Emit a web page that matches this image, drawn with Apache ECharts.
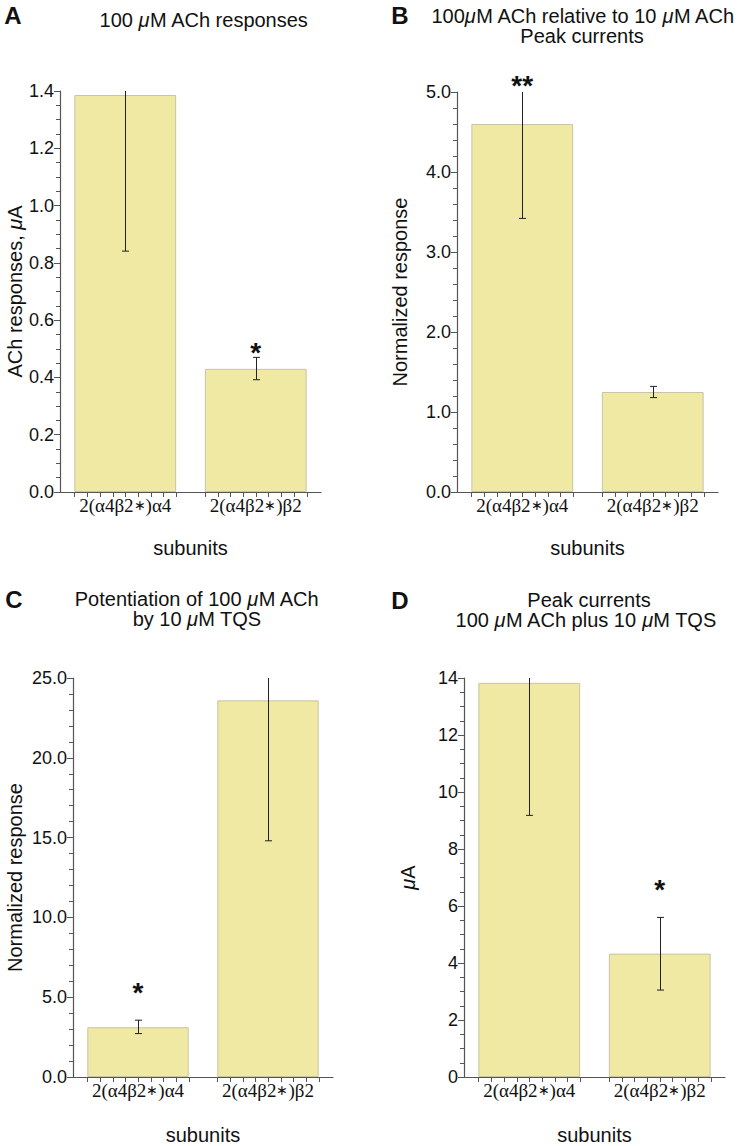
<!DOCTYPE html>
<html>
<head>
<meta charset="utf-8">
<script src="https://cdn.jsdelivr.net/npm/echarts@6/dist/echarts.min.js"></script>
<style>
html,body{margin:0;padding:0;background:#fff;}
#chart{width:742px;height:1146px;}
</style>
</head>
<body>
<div id="chart"></div>
<script>
// ---------- DATA ----------
const categories = ['2(α4β2∗)α4', '2(α4β2∗)β2'];

// Panel A: 100 µM ACh responses (µA)
const valuesA = [1.386, 0.430];
const errLowA = [0.841, 0.392];
const errHighA = [1.931, 0.470];
const sigA = ['', '*'];
const yTicksA = [0, 0.2, 0.4, 0.6, 0.8, 1.0, 1.2, 1.4];

// Panel B: 100 µM ACh relative to 10 µM ACh
const valuesB = [4.60, 1.25];
const errLowB = [3.42, 1.18];
const errHighB = [5.78, 1.32];
const sigB = ['**', ''];
const yTicksB = [0, 1, 2, 3, 4, 5];

// Panel C: Potentiation of 100 µM ACh by 10 µM TQS
const valuesC = [3.12, 23.6];
const errLowC = [2.72, 14.8];
const errHighC = [3.56, 32.4];
const sigC = ['*', ''];
const yTicksC = [0, 5, 10, 15, 20, 25];

// Panel D: Peak currents 100 µM ACh plus 10 µM TQS (µA)
const valuesD = [13.83, 4.33];
const errLowD = [9.18, 3.05];
const errHighD = [18.5, 5.60];
const sigD = ['', '*'];
const yTicksD = [0, 2, 4, 6, 8, 10, 12, 14];

// ---------- STYLE ----------
const SANS = '"Liberation Sans", Arial, Helvetica, sans-serif';
const SERIF = '"Liberation Serif", "Times New Roman", serif';
const BAR_FILL = '#f0e9a3';
const BAR_EDGE = '#c8c4a6';
const AXIS_COL = '#555';
const TXT = '#111';

const panels = [
  {grid:{left:60, top:91, width:261, height:401}, values:valuesA, lo:errLowA, hi:errHighA, sig:sigA, ticks:yTicksA, dec:1, minor:4,
   yName:'ACh responses, {i|μ}A', yGap:33, sigOffset:5, xGap:46},
  {grid:{left:457, top:92, width:261, height:400}, values:valuesB, lo:errLowB, hi:errHighB, sig:sigB, ticks:yTicksB, dec:1, minor:5,
   yName:'Normalized response', yGap:47, sigOffset:7, xGap:46},
  {grid:{left:73, top:678, width:260, height:400}, values:valuesC, lo:errLowC, hi:errHighC, sig:sigC, ticks:yTicksC, dec:1, minor:5,
   yName:'Normalized response', yGap:48, sigOffset:28, xGap:48},
  {grid:{left:464, top:678, width:261, height:401}, values:valuesD, lo:errLowD, hi:errHighD, sig:sigD, ticks:yTicksD, dec:0, minor:4,
   yName:'{i|μ}A', yGap:46, sigOffset:28, xGap:48}
];

const BAR_FRAC = 0.78;

const grids = [], xAxes = [], yAxes = [], series = [];
panels.forEach((p, k) => {
  const yMin = p.ticks[0], yMax = p.ticks[p.ticks.length - 1];
  const step = p.ticks[1] - p.ticks[0];
  grids.push(p.grid);
  xAxes.push({
    type:'category', gridIndex:k, data:categories,
    axisLine:{show:true, lineStyle:{color:AXIS_COL, width:1.2}},
    axisTick:{show:false},
    axisLabel:{fontFamily:SERIF, fontSize:19, color:TXT, margin:4, interval:0, hideOverlap:false,
      formatter:(v) => v.replace('∗', '{s|∗}'),
      rich:{s:{fontFamily:SERIF, fontSize:14, color:TXT}}},
    name:'subunits', nameLocation:'middle', nameGap:p.xGap,
    nameTextStyle:{fontFamily:SANS, fontSize:20, color:TXT}
  });
  yAxes.push({
    type:'value', gridIndex:k, min:yMin, max:yMax, interval:step,
    axisLine:{show:true, lineStyle:{color:AXIS_COL, width:1.2}},
    axisTick:{show:true, length:6, lineStyle:{color:AXIS_COL}},
    minorTick:{show:true, splitNumber:p.minor, length:4, lineStyle:{color:AXIS_COL}},
    splitLine:{show:false},
    axisLabel:{fontFamily:SANS, fontSize:18, color:TXT, margin:6,
      formatter:(v) => v.toFixed(p.dec)},
    name:p.yName, nameLocation:'middle', nameGap:p.yGap,
    nameTextStyle:{fontFamily:SANS, fontSize:20, color:TXT,
      rich:{i:{fontFamily:SANS, fontSize:20, fontStyle:'italic', color:TXT}}}
  });
  // bars
  series.push({
    type:'bar', xAxisIndex:k, yAxisIndex:k, data:p.values,
    barWidth:(BAR_FRAC*100)+'%',
    itemStyle:{color:BAR_FILL, borderColor:BAR_EDGE, borderWidth:1},
    silent:true, animation:false
  });
  // minor ticks below x axis, spanning each bar
  series.push({
    type:'custom', xAxisIndex:k, yAxisIndex:k,
    data:categories.map((c, i) => [i, yMin]),
    renderItem:(params, api) => {
      const base = api.coord([api.value(0), api.value(1)]);
      const bw = api.size([1, 0])[0] * BAR_FRAC;
      const ch = [];
      for (let j = 0; j <= 8; j++) {
        const x = Math.round(base[0] - bw/2 + bw*j/8) + 0.5;
        ch.push({type:'line', shape:{x1:x, y1:base[1], x2:x, y2:base[1]+5},
          style:{stroke:AXIS_COL, lineWidth:1}});
      }
      return {type:'group', children:ch};
    },
    silent:true, animation:false, z:3
  });
  // error bars (clipped at the top of the axis)
  series.push({
    type:'custom', xAxisIndex:k, yAxisIndex:k,
    data:p.values.map((v, i) => [i, p.lo[i], p.hi[i]]),
    renderItem:(params, api) => {
      const i = api.value(0), lo = api.value(1), hi = api.value(2);
      const hiC = Math.min(hi, yMax);
      const a = api.coord([i, lo]), b = api.coord([i, hiC]);
      const x = Math.round(a[0]) + 0.5;
      const cap = 3.5;
      const ch = [
        {type:'line', shape:{x1:x, y1:a[1], x2:x, y2:b[1]}, style:{stroke:'#222', lineWidth:1}},
        {type:'line', shape:{x1:x-cap, y1:a[1], x2:x+cap, y2:a[1]}, style:{stroke:'#222', lineWidth:1}}
      ];
      if (hi <= yMax) ch.push({type:'line', shape:{x1:x-cap, y1:b[1], x2:x+cap, y2:b[1]}, style:{stroke:'#222', lineWidth:1}});
      return {type:'group', children:ch};
    },
    silent:true, animation:false, z:4
  });
  // significance asterisks
  series.push({
    type:'custom', xAxisIndex:k, yAxisIndex:k,
    data:p.values.map((v, i) => [i, Math.min(p.hi[i], yMax), p.sig[i]]),
    renderItem:(params, api) => {
      const s = p.sig[params.dataIndex];
      if (!s) return null;
      const c = api.coord([api.value(0), api.value(1)]);
      return {type:'text', x:c[0], y:c[1] - p.sigOffset,
        style:{text:s, font:'bold 28px ' + SANS, fill:TXT, textAlign:'center', textVerticalAlign:'middle'}};
    },
    clip:false, silent:true, animation:false, z:5
  });
});

const italic = {i:{fontFamily:SANS, fontSize:20, fontStyle:'italic', fill:TXT}};
function t(x, y, text, bold) {
  return {type:'text', x:x, y:y, style:{text:text, font:(bold ? 'bold 24px ' : '20px ') + SANS, fill:TXT,
    textAlign:'center', textVerticalAlign:'middle', rich:italic}};
}
const graphics = [
  t(13, 15, 'A', true), t(204, 20, '100 {i|μ}M ACh responses'),
  t(400, 15, 'B', true), t(583, 16, '100{i|μ}M ACh relative to 10 {i|μ}M ACh'), t(582, 36, 'Peak currents'),
  t(14, 599, 'C', true), t(197, 599, 'Potentiation of 100 {i|μ}M ACh'), t(197, 619, 'by 10 {i|μ}M TQS'),
  t(400, 600, 'D', true), t(589, 600, 'Peak currents'), t(586, 620, '100 {i|μ}M ACh plus 10 {i|μ}M TQS')
];

const chart = echarts.init(document.getElementById('chart'), null, {renderer:'svg'});
chart.setOption({
  backgroundColor:'#fff',
  animation:false,
  grid:grids, xAxis:xAxes, yAxis:yAxes, series:series,
  graphic:graphics
});
</script>
</body>
</html>
